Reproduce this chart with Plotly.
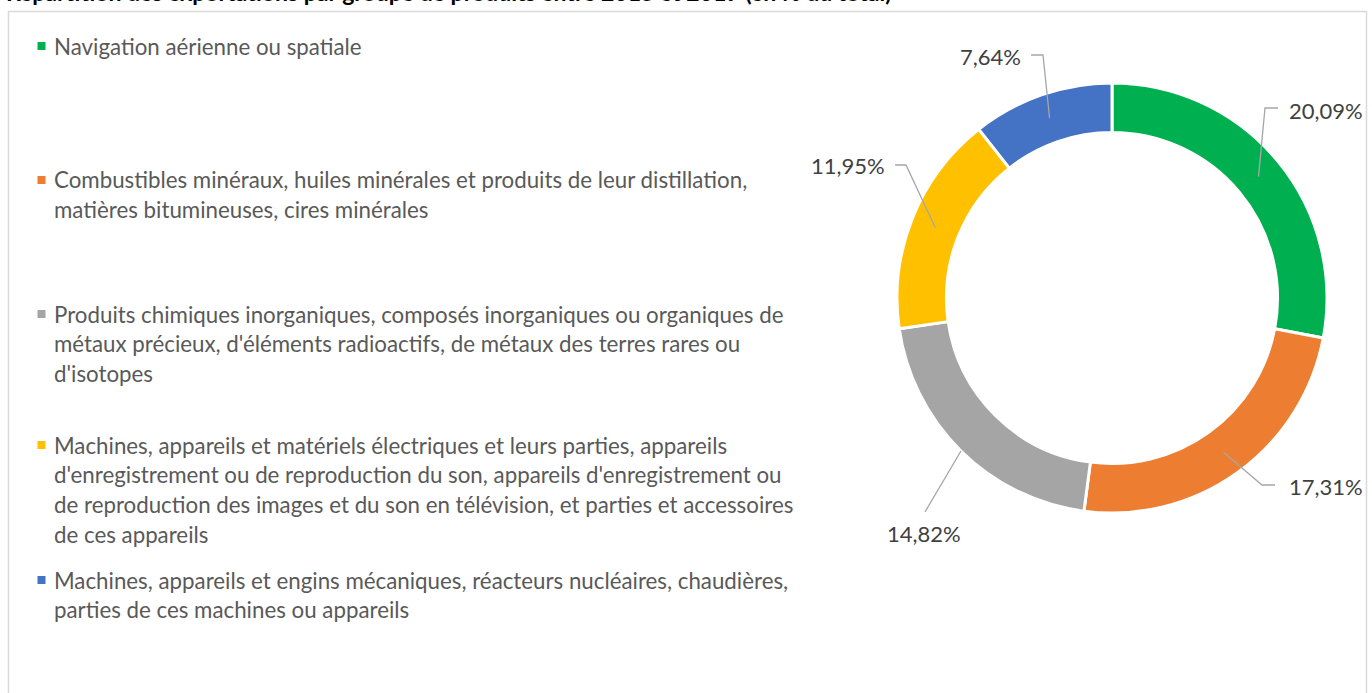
import math
import plotly.graph_objects as go

# ---------------- data ----------------
categories = [
    "Navigation aérienne ou spatiale",
    "Combustibles minéraux, huiles minérales et produits de leur distillation, matières bitumineuses, cires minérales",
    "Produits chimiques inorganiques, composés inorganiques ou organiques de métaux précieux, d'éléments radioactifs, de métaux des terres rares ou d'isotopes",
    "Machines, appareils et matériels électriques et leurs parties, appareils d'enregistrement ou de reproduction du son, appareils d'enregistrement ou de reproduction des images et du son en télévision, et parties et accessoires de ces appareils",
    "Machines, appareils et engins mécaniques, réacteurs nucléaires, chaudières, parties de ces machines ou appareils",
]
legend_lines = [
    ["Navigation aérienne ou spatiale"],
    ["Combustibles minéraux, huiles minérales et produits de leur distillation,",
     "matières bitumineuses, cires minérales"],
    ["Produits chimiques inorganiques, composés inorganiques ou organiques de",
     "métaux précieux, d'éléments radioactifs, de métaux des terres rares ou",
     "d'isotopes"],
    ["Machines, appareils et matériels électriques et leurs parties, appareils",
     "d'enregistrement ou de reproduction du son, appareils d'enregistrement ou",
     "de reproduction des images et du son en télévision, et parties et accessoires",
     "de ces appareils"],
    ["Machines, appareils et engins mécaniques, réacteurs nucléaires, chaudières,",
     "parties de ces machines ou appareils"],
]
shares = [20.09, 17.31, 14.82, 11.95, 7.64]
title_text = "Répartition des exportations par groupe de produits entre 2015 et 2019 (en % du total)"

# ---------------- style ----------------
colors = ["#00B050", "#ED7D31", "#A5A5A5", "#FFC000", "#4472C4"]
W, H = 1372, 693
FONT = "Lato"
FS = 22.3
CX, CY, R_OUT, HOLE = 1112, 298, 215, 0.77
R_IN = R_OUT * HOLE

def px(x):
    return x / W

def py(y):
    return 1 - y / H

fig = go.Figure()
fig.add_trace(go.Pie(
    labels=categories, values=shares, hole=HOLE, sort=False,
    direction="clockwise", rotation=0,
    marker=dict(colors=colors, line=dict(color="white", width=3)),
    textinfo="none", showlegend=False, hoverinfo="label+value",
    domain=dict(x=[px(CX - R_OUT), px(CX + R_OUT)], y=[py(CY + R_OUT), py(CY - R_OUT)]),
))

shapes = []
annotations = []

# chart frame
shapes.append(dict(type="rect", xref="paper", yref="paper",
                   x0=px(8.5), x1=px(1366.5), y0=py(720), y1=py(11.5),
                   line=dict(color="#D9D9D9", width=1.5), layer="below"))

# title (mostly cut off at top, as in the reference)
annotations.append(dict(text="<b>" + title_text + "</b>", xref="paper", yref="paper",
                        x=px(4), y=py(8), xanchor="left", yanchor="bottom",
                        showarrow=False, font=dict(family=FONT, size=23, color="#000000")))

# data labels with leader lines
anchor_r = [(R_OUT + R_IN) / 2] * 5
anchor_r[2] = R_OUT
# (elbow, end, text x, text y, anchor)
label_layout = [
    ((1265, 108), (1278, 108), 1287, 110, "left"),
    ((1262, 485), (1275, 485), 1287, 486, "left"),
    ((925, 512), (925, 512), 924, 533, "center"),
    ((906, 165), (895, 165), 887, 166, "right"),
    ((1043, 55), (1031, 55), 1023, 57, "right"),
]
total = sum(shares)
start = 0.0
for i, v in enumerate(shares):
    ang = start + v / total * 360 / 2
    start += v / total * 360
    a = math.radians(ang)
    ax = CX + anchor_r[i] * math.sin(a)
    ay = CY - anchor_r[i] * math.cos(a)
    (ex, ey), (fx, fy), tx, ty, anc = label_layout[i]
    path = f"M {px(ax)} {py(ay)} L {px(ex)} {py(ey)} L {px(fx)} {py(fy)}"
    shapes.append(dict(type="path", xref="paper", yref="paper", path=path,
                       line=dict(color="#A6A6A6", width=1.3)))
    annotations.append(dict(text=f"{v:.2f}%".replace(".", ","), xref="paper", yref="paper",
                            x=px(tx), y=py(ty), xanchor=anc, yanchor="middle",
                            showarrow=False, font=dict(family=FONT, size=22, color="#404040")))

# custom legend
item_tops = [46, 180, 314, 445, 580]
LINE_H = 29.7
for i, lines in enumerate(legend_lines):
    y0 = item_tops[i]
    shapes.append(dict(type="rect", xref="paper", yref="paper",
                       x0=px(37.5), x1=px(45.5), y0=py(y0 + 4), y1=py(y0 - 4),
                       fillcolor=colors[i], line=dict(width=0)))
    for k, ln in enumerate(lines):
        annotations.append(dict(text=ln, xref="paper", yref="paper",
                                x=px(52), y=py(y0 + k * LINE_H), xanchor="left", yanchor="middle",
                                showarrow=False,
                                font=dict(family=FONT, size=FS, color="#595959")))

fig.update_layout(
    width=W, height=H, margin=dict(l=0, r=0, t=0, b=0),
    paper_bgcolor="white", plot_bgcolor="white",
    shapes=shapes, annotations=annotations, showlegend=False,
)
fig.write_html("out.html", config={"displayModeBar": False},
               post_script="document.body.style.margin='0';document.body.style.padding='0';")
